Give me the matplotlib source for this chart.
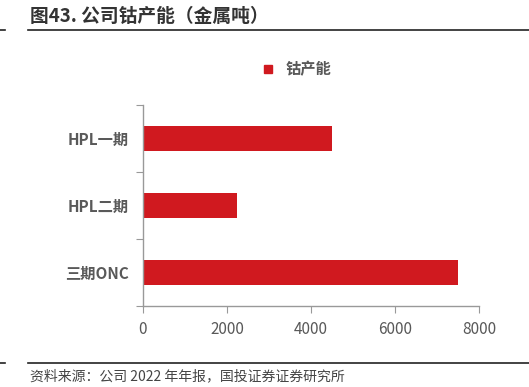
import matplotlib.pyplot as plt
from matplotlib.lines import Line2D

plt.rcParams['font.family'] = ['Noto Sans CJK SC', 'DejaVu Sans']

categories = ['三期ONC', 'HPL二期', 'HPL一期']
capacity = [7500, 2250, 4500]
x_ticks = [0, 2000, 4000, 6000, 8000]
series_name = '钴产能'
title = '图43. 公司钴产能（金属吨）'
source = '资料来源：公司 2022 年年报，国投证券证券研究所'

bar_color = '#D0191F'
gray = '#595959'

fig = plt.figure(figsize=(5.29, 3.87), dpi=100)
ax = fig.add_axes([0.2703, 0.2093, 0.6352, 0.5194])

ax.barh(categories, capacity, height=0.36, color=bar_color)
ax.set_xlim(0, 8000)
ax.set_ylim(-0.5, 2.5)
ax.set_xticks(x_ticks)
ax.set_xticklabels([str(v) for v in x_ticks], fontsize=11, color=gray)
ax.set_yticks([-0.5, 0.5, 1.5, 2.5], minor=False)
ax.set_yticklabels([])
ax.set_yticks(range(len(categories)), minor=True)
ax.set_yticklabels(categories, minor=True, fontsize=11, fontweight='bold', color=gray)
ax.tick_params(axis='y', which='minor', length=0, pad=10)
ax.tick_params(axis='y', which='major', length=5, color='#999999', direction='out')
ax.tick_params(axis='x', length=5, color='#999999', direction='out', pad=6)

for side in ['top', 'right']:
    ax.spines[side].set_visible(False)
for side in ['left', 'bottom']:
    ax.spines[side].set_color('#999999')
    ax.spines[side].set_linewidth(1)

handle = Line2D([], [], marker='s', linestyle='none', color=bar_color, markersize=6)
fig.legend([handle], [series_name], loc='center', bbox_to_anchor=(292 / 529, 1 - 69 / 387),
           frameon=False, handletextpad=0.2, labelcolor=gray,
           prop={'weight': 'bold', 'size': 11})

fig.text(30 / 529, 1 - 16 / 387, title, fontsize=13.5, fontweight='bold', color='#333333',
         va='center', ha='left')
fig.add_artist(Line2D([28 / 529, 1], [1 - 30 / 387] * 2, color='#222222', lw=1.2))
fig.add_artist(Line2D([0, 5 / 529], [1 - 30 / 387] * 2, color='#222222', lw=1.2))
fig.add_artist(Line2D([28 / 529, 1], [1 - 363 / 387] * 2, color='#222222', lw=1.2))
fig.add_artist(Line2D([0, 5 / 529], [1 - 363 / 387] * 2, color='#222222', lw=1.2))
fig.text(30 / 529, 1 - 376 / 387, source, fontsize=10, style='italic', color='#444444',
         va='center', ha='left')

fig.savefig('out.png', dpi=100)
